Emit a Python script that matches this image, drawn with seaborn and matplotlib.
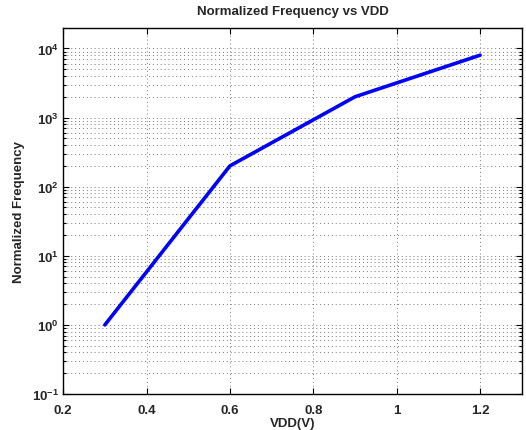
import matplotlib
matplotlib.use('Agg')
import matplotlib.pyplot as plt
import matplotlib.ticker as mticker
import pandas as pd
import seaborn as sns

vdd = [0.3, 0.6, 0.9, 1.2]
norm_freq = [1.0, 200.0, 2000.0, 8000.0]
x_ticks = [0.2, 0.4, 0.6, 0.8, 1.0, 1.2]
x_tick_labels = ['0.2', '0.4', '0.6', '0.8', '1', '1.2']

sns.set_style('ticks')
plt.rcParams['font.family'] = ['Liberation Sans', 'DejaVu Sans']
plt.rcParams['font.weight'] = 'bold'
plt.rcParams['mathtext.default'] = 'bf'

df = pd.DataFrame({'VDD': vdd, 'freq': norm_freq})

fig = plt.figure(figsize=(5.26, 4.31), dpi=100)
ax = fig.add_axes([0.12, 0.0835, 0.872, 0.85])

sns.lineplot(data=df, x='VDD', y='freq', ax=ax, color='#0000ff', linewidth=2.6)
ax.set_yscale('log')
ax.set_xlim(0.2, 1.3)
ax.set_ylim(0.1, 2e4)

ax.set_xticks(x_ticks, labels=x_tick_labels)
ax.yaxis.set_major_locator(mticker.LogLocator(base=10, numticks=10))
ax.yaxis.set_minor_locator(mticker.LogLocator(base=10, subs=range(2, 10), numticks=20))
ax.yaxis.set_minor_formatter(mticker.NullFormatter())

grid_kw = dict(linestyle=(0, (1, 3)), color='#777777', linewidth=0.7)
ax.grid(True, which='major', axis='both', **grid_kw)
ax.grid(True, which='minor', axis='y', **grid_kw)

ax.tick_params(axis='both', which='both', direction='in', top=True, right=True,
               labelsize=9.5, width=0.8, color='black')
ax.tick_params(axis='both', which='major', length=4)
ax.tick_params(axis='both', which='minor', length=2)
ax.tick_params(axis='x', which='major', pad=7)
ax.tick_params(axis='y', which='major', pad=3)
for lbl in ax.get_xticklabels() + ax.get_yticklabels():
    lbl.set_fontweight('bold')
for spine in ax.spines.values():
    spine.set_visible(True)
    spine.set_linewidth(1.0)
    spine.set_color('black')

ax.set_xlabel('VDD(V)', fontsize=9.5, fontweight='bold', labelpad=1)
ax.set_ylabel('Normalized Frequency', fontsize=9.5, fontweight='bold', labelpad=5)
ax.set_title('Normalized Frequency vs VDD', fontsize=9.5, fontweight='bold', pad=10)

fig.savefig('out.png', dpi=100)
